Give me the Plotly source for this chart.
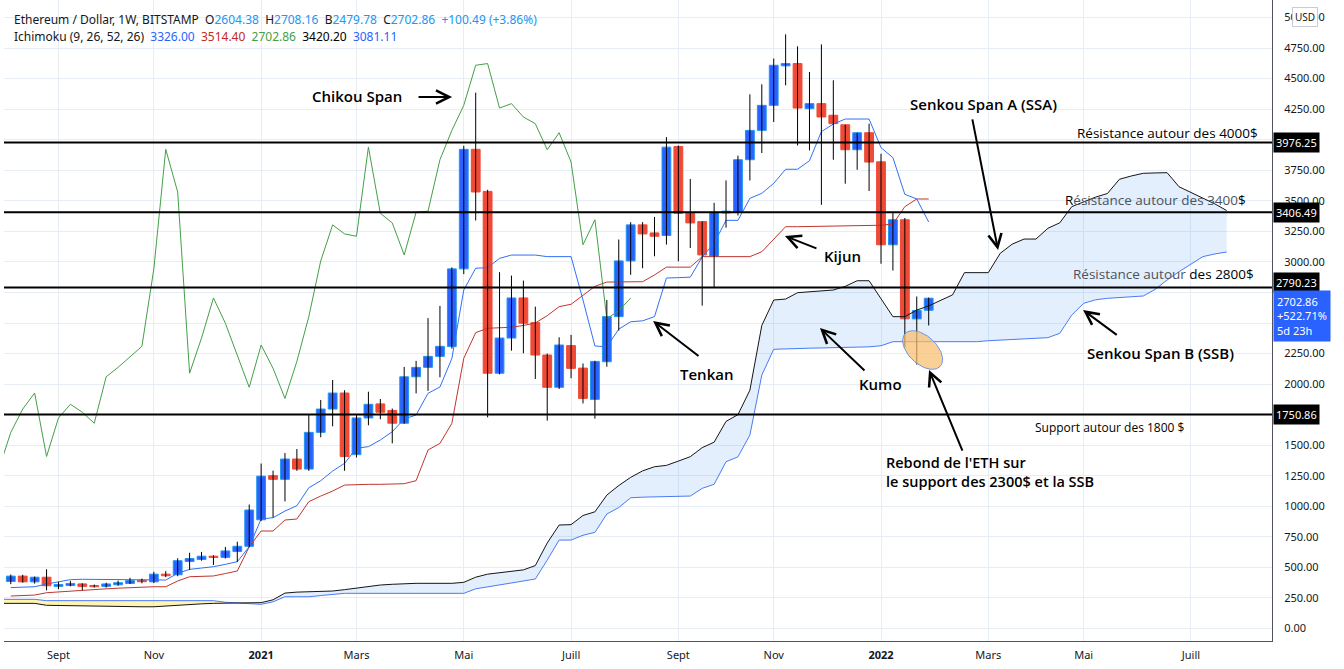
import math
import pandas as pd
import plotly.graph_objects as go

# ---------------- DATA ----------------
FIRST_WEEK = "2020-08-10"  # Monday of the first weekly candle

opens = [385, 429, 382, 420, 345, 352, 365, 350, 345, 358,
         369, 395, 382, 445, 440, 548, 565, 592, 582, 630,
         673, 890, 1251, 1221, 1387, 1305, 1605, 1796, 1927, 1423,
         1723, 1838, 1784, 1680, 2060, 2137, 2227, 2307, 2943, 3921,
         3577, 2089, 2377, 2705, 2503, 2238, 1974, 2315, 2131, 1875,
         2183, 2552, 3008, 3303, 3237, 3216, 3944, 3398, 3330, 3046,
         3400, 3410, 3836, 4076, 4281, 4604, 4623, 4254, 4295, 4200,
         4122, 3918, 4057, 3819, 3140, 3345, 2534, 2604.38]
highs = [442, 440, 425, 485, 382, 390, 370, 360, 375, 392,
         415, 408, 465, 470, 575, 620, 627, 600, 668, 710,
         1015, 1350, 1292, 1436, 1469, 1756, 1870, 2034, 1950, 1750,
         1938, 1878, 1800, 2140, 2190, 2540, 2640, 2955, 3950, 4385,
         3590, 2916, 2888, 2847, 2634, 2250, 2383, 2403, 2169, 2190,
         2688, 3183, 3325, 3325, 3368, 4021, 3953, 3679, 3330, 3483,
         3667, 3870, 4371, 4453, 4664, 4862, 4764, 4554, 4780, 4486,
         4122, 4057, 4131, 3885, 3407, 3359, 2717, 2708.16]
lows = [363, 375, 368, 312, 322, 345, 315, 335, 335, 350,
        365, 370, 372, 420, 428, 480, 555, 520, 573, 545,
        665, 880, 909, 1040, 1290, 1290, 1565, 1655, 1291, 1400,
        1663, 1712, 1515, 1675, 1924, 1945, 2056, 2290, 2900, 3339,
        1728, 2080, 2274, 2252, 2042, 1701, 1960, 2048, 1842, 1717,
        2142, 2438, 2894, 2948, 3046, 3142, 3005, 3114, 2642, 2787,
        3280, 3380, 3666, 3891, 4145, 4445, 3953, 3912, 3467, 3836,
        3640, 3754, 3580, 2985, 2929, 2301, 2160, 2479.78]
closes = [429, 382, 420, 350, 360, 369, 345, 342, 365, 375,
          392, 383, 445, 432, 555, 573, 592, 582, 635, 673,
          970, 1247, 1221, 1387, 1305, 1605, 1796, 1927, 1408, 1723,
          1835, 1770, 1680, 2060, 2137, 2227, 2309, 2943, 3921, 3572,
          2089, 2377, 2705, 2498, 2238, 1974, 2320, 2129, 1883, 2186,
          2552, 3008, 3303, 3229, 3210, 3939, 3398, 3319, 3057, 3406,
          3415, 3836, 4076, 4281, 4609, 4623, 4259, 4295, 4186, 4131,
          3918, 4057, 3817, 3140, 3345, 2534, 2602, 2702.86]

# Ichimoku lines (one value per weekly bar)
tenkan = [335, 337, 342, 364, 385, 400, 403, 403, 403, 403,
          403, 403, 397, 397, 452, 484, 495, 506, 525, 547,
          669, 896, 907, 961, 1005, 1152, 1209, 1289, 1352, 1475,
          1488, 1543, 1610, 1715, 1747, 1925, 1976, 2210, 2770, 2948,
          2953, 3029, 3056, 3056, 3056, 3043, 3043, 3043, 2688, 2312,
          2305, 2450, 2510, 2518, 2552, 2868, 2871, 2875, 3040, 3152,
          3340, 3340, 3520, 3561, 3643, 3758, 3758, 3828, 4066, 4128,
          4169, 4169, 4169, 3935, 3853, 3553, 3515, 3326.00]
kijun = [266, 270, 274, 293, 300, 310, 315, 320, 325, 330,
         336, 342, 342, 342, 389, 424, 427, 430, 450, 471,
         669, 798, 798, 888, 896, 1038, 1084, 1125, 1174, 1180,
         1180, 1180, 1180, 1185, 1210, 1461, 1515, 1679, 2211, 2421,
         2457, 2462, 2465, 2480, 2500, 2560, 2634, 2653, 2730, 2800,
         2835, 2838, 2838, 2838, 2893, 2957, 2957, 2957, 3043, 3043,
         3043, 3043, 3043, 3083, 3190, 3288, 3288, 3290, 3290, 3290,
         3295, 3295, 3296, 3300, 3310, 3452, 3515, 3514.40]
# Senkou spans (displaced 25 weeks ahead), starting one week before the first candle
ssa = [206, 206, 206, 206, 190, 188, 186, 184, 182, 180,
       178, 178, 178, 178, 185, 192, 198, 202, 206, 207,
       208, 208, 212, 235, 290, 298, 301, 305, 307, 318,
       330, 345, 356, 362, 368, 370, 370, 370, 370, 378,
       420, 445, 458, 465, 480, 515, 700, 847, 850, 925,
       955, 1092, 1170, 1237, 1290, 1324, 1335, 1370, 1406, 1480,
       1525, 1695, 1750, 1950, 2480, 2688, 2696, 2748, 2755, 2762,
       2770, 2800, 2846, 2846, 2700, 2552, 2552, 2606, 2640, 2688,
       2730, 2912, 2912, 2912, 3070, 3145, 3187, 3187, 3275, 3320,
       3452, 3490, 3530, 3560, 3676, 3703, 3725, 3728, 3730, 3615,
       3570, 3520, 3475, 3420.20]
ssb = [239, 239, 239, 239, 228, 228, 228, 228, 228, 228,
       228, 228, 228, 228, 228, 228, 228, 228, 228, 215,
       208, 200, 198, 219, 260, 260, 260, 270, 280, 288,
       288, 288, 288, 288, 288, 288, 288, 288, 288, 288,
       325, 340, 355, 370, 388, 405, 560, 724, 724, 763,
       787, 937, 990, 1070, 1075, 1078, 1080, 1082, 1084, 1147,
       1180, 1365, 1405, 1583, 2074, 2285, 2290, 2292, 2294, 2296,
       2298, 2300, 2302, 2305, 2314, 2347, 2347, 2347, 2347, 2347,
       2347, 2347, 2347, 2355, 2360, 2367, 2370, 2375, 2380, 2416,
       2565, 2661, 2690, 2702, 2707, 2712, 2721, 2775, 2852, 2920,
       2980, 3043, 3065, 3081.11]
chikou = closes[24:]  # closes drawn 25 bars back (lagging span)

levels = [3976.25, 3406.49, 2790.23, 1750.86]
level_label_shift = [0, 0, 5, 0]

# price-axis labels visible in the picture (others are hidden behind the price boxes)
y_tick_vals = [0, 250, 500, 750, 1000, 1250, 1500, 2000, 2250,
               3000, 3250, 3500, 3750, 4250, 4500, 4750, 5000]

tick_dates = ["2020-09-07", "2020-11-02", "2021-01-04", "2021-03-01", "2021-05-03",
              "2021-07-05", "2021-09-06", "2021-11-01", "2022-01-03", "2022-03-07",
              "2022-05-02", "2022-07-04"]
tick_labels = ["Sept", "Nov", "<b>2021</b>", "Mars", "Mai", "Juill", "Sept", "Nov",
               "<b>2022</b>", "Mars", "Mai", "Juill"]

# ---------------- BUILD ----------------
weeks = pd.date_range(FIRST_WEEK, periods=len(closes), freq="7D")
span_weeks = pd.date_range(pd.Timestamp(FIRST_WEEK) - pd.Timedelta(weeks=1), periods=len(ssa), freq="7D")
chikou_weeks = span_weeks[:len(chikou)]
LAST = weeks[-1]


def wk(k):
    return str(LAST + pd.Timedelta(days=7 * k))


UP_FILL, UP_LINE = "#2962ff", "#2196f3"
DN_FILL, DN_LINE = "#ef4a36", "#ef4a36"

fig = go.Figure()

# cloud
hi = [max(a, b) for a, b in zip(ssa, ssb)]
fig.add_trace(go.Scatter(x=span_weeks, y=ssa, mode="lines", line=dict(width=0), hoverinfo="skip"))
fig.add_trace(go.Scatter(x=span_weeks, y=hi, mode="lines", line=dict(width=0), fill="tonexty",
                         fillcolor="rgba(255,232,80,0.45)", hoverinfo="skip"))
fig.add_trace(go.Scatter(x=span_weeks, y=ssb, mode="lines", line=dict(width=0), hoverinfo="skip"))
fig.add_trace(go.Scatter(x=span_weeks, y=hi, mode="lines", line=dict(width=0), fill="tonexty",
                         fillcolor="rgba(40,130,235,0.13)", hoverinfo="skip"))
fig.add_trace(go.Scatter(x=span_weeks, y=ssb, mode="lines", line=dict(color="#4a7bf7", width=1)))
fig.add_trace(go.Scatter(x=span_weeks, y=ssa, mode="lines", line=dict(color="#151515", width=1)))

# chikou, kijun, tenkan
fig.add_trace(go.Scatter(x=chikou_weeks, y=chikou, mode="lines", line=dict(color="#43a047", width=1)))
fig.add_trace(go.Scatter(x=weeks, y=kijun, mode="lines", line=dict(color="#c0352d", width=1)))
fig.add_trace(go.Scatter(x=weeks, y=tenkan, mode="lines", line=dict(color="#3170f5", width=1)))

# wicks
wx, wy = [], []
for d, h, l in zip(weeks, highs, lows):
    wx += [d, d, None]
    wy += [l, h, None]
fig.add_trace(go.Scatter(x=wx, y=wy, mode="lines", line=dict(color="#000000", width=1)))

# bodies
bar_w = 7 * 24 * 3600 * 1000 * 0.74
for up in (True, False):
    xs, bases, hs = [], [], []
    for d, o, c in zip(weeks, opens, closes):
        if (c >= o) == up:
            xs.append(d)
            bases.append(min(o, c))
            hs.append(max(abs(c - o), 10))
    fig.add_trace(go.Bar(x=xs, y=hs, base=bases, width=bar_w,
                         marker=dict(color=UP_FILL if up else DN_FILL,
                                     line=dict(color=UP_LINE if up else DN_LINE, width=1))))

# ellipse (highlight of the rebound)
kc, pc = -0.51, 2279
a_px, b_px, th = 24, 14, math.radians(43)
ex, ey = [], []
for i in range(73):
    t = 2 * math.pi * i / 72
    dx = a_px * math.cos(t) * math.cos(th) - b_px * math.sin(t) * math.sin(th)
    dy = a_px * math.cos(t) * math.sin(th) + b_px * math.sin(t) * math.cos(th)
    ex.append(wk(kc + dx / 11.92))
    ey.append(pc - dy / 0.1222)
fig.add_trace(go.Scatter(x=ex, y=ey, mode="lines", fill="toself", fillcolor="rgba(250,190,110,0.72)",
                         line=dict(color="#6a95f0", width=1)))

# horizontal levels
for lv in levels:
    fig.add_shape(type="line", xref="paper", x0=0, x1=1, yref="y", y0=lv, y1=lv,
                  line=dict(color="#000000", width=2), layer="above")

ann = []
TXT = "#131722"
FONT = "Open Sans"


def label(text, k, p, size=15, weight=600, **kw):
    d = dict(x=wk(k), y=p, xref="x", yref="y", text=text, showarrow=False,
             font=dict(family=FONT, size=size, color="#000000", weight=weight))
    d.update(kw)
    ann.append(d)


def arrow(k0, p0, k1, p1):
    ann.append(dict(x=wk(k1), y=p1, ax=wk(k0), ay=p0, xref="x", yref="y", axref="x", ayref="y",
                    text="", showarrow=True, arrowhead=5, arrowsize=1.3, arrowwidth=2,
                    arrowcolor="#000000", standoff=0, startstandoff=0))


label("Chikou Span", -47.95, 4358)
arrow(-42.92, 4349, -39.98, 4349)
label("Senkou Span A (SSA)", 4.56, 4292)
arrow(3.64, 4178, 5.82, 3097)
label("Résistance autour des 4000$", 20.0, 4055, size=13.5, weight=500)
label("R<span style='color:#4d525c'>ésistance autour des 3400</span>$", 19.0, 3507, size=13.5, weight=500)
label("<span style='color:#4d525c'>Résistance autour </span>des 2800$", 19.7, 2900, size=13.5, weight=500)
label("Kijun", -7.2, 3048)
arrow(-9.29, 3106, -12.06, 3212)
label("Tenkan", -18.67, 2083)
arrow(-19.18, 2221, -23.12, 2516)
label("Kumo", -4.08, 2002)
arrow(-5.26, 2099, -9.12, 2459)
label("Senkou Span B (SSB)", 19.42, 2254)
arrow(15.9, 2394, 12.95, 2606)
label("Support autour des 1800 $", 15.2, 1641, size=12, weight=500)
label("Rebond de l'ETH sur<br>le support des 2300$ et la SSB", -3.74, 1277, size=14.5,
      xanchor="left", align="left")
arrow(2.88, 1444, 0.03, 2115)

# axis price labels
for lv, sh in zip(levels, level_label_shift):
    ann.append(dict(xref="paper", x=1, xanchor="left", xshift=1, yref="y", y=lv, yshift=sh,
                    text=f"{lv:.2f}", showarrow=False, bgcolor="#000000", borderpad=2,
                    font=dict(family="Noto Sans", size=11, color="#ffffff")))
ann.append(dict(xref="paper", x=1, xanchor="left", xshift=1, yref="y", y=closes[-1], yanchor="top",
                yshift=8, text=f"{closes[-1]:.2f}<br>+522.71%<br>5d 23h", align="left",
                showarrow=False, bgcolor="#2962ff", borderpad=3,
                font=dict(family="Noto Sans", size=11, color="#ffffff")))
ann.append(dict(xref="paper", x=1, xanchor="center", xshift=33, yref="paper", y=1, yanchor="top",
                yshift=-7, text="USD", showarrow=False, bgcolor="#ffffff", bordercolor="#c9ccd4",
                borderwidth=1, borderpad=2, font=dict(family="Noto Sans", size=10, color=TXT)))

# header
BL = "#2196f3"
h1 = ("Ethereum / Dollar, 1W, BITSTAMP&nbsp;&nbsp;"
      f"O<span style='color:{BL}'>{opens[-1]:.2f}</span>&nbsp;&nbsp;"
      f"H<span style='color:{BL}'>{highs[-1]:.2f}</span>&nbsp;&nbsp;"
      f"B<span style='color:{BL}'>{lows[-1]:.2f}</span>&nbsp;&nbsp;"
      f"C<span style='color:{BL}'>{closes[-1]:.2f}</span>&nbsp;&nbsp;"
      f"<span style='color:{BL}'>+100.49 (+3.86%)</span>")
h2 = ("Ichimoku (9, 26, 52, 26)&nbsp;&nbsp;"
      f"<span style='color:#2962ff'>{tenkan[-1]:.2f}</span>&nbsp;&nbsp;"
      f"<span style='color:#c62828'>{kijun[-1]:.2f}</span>&nbsp;&nbsp;"
      f"<span style='color:#43a047'>{chikou[-1]:.2f}</span>&nbsp;&nbsp;"
      f"<span style='color:#000000'>{ssa[-1]:.2f}</span>&nbsp;&nbsp;"
      f"<span style='color:#2962ff'>{ssb[-1]:.2f}</span>")
for i, h in enumerate([h1, h2]):
    ann.append(dict(xref="paper", x=0, xanchor="left", xshift=8, yref="paper", y=1, yanchor="top",
                    yshift=-9 - 17 * i, text=h, showarrow=False, align="left",
                    font=dict(family="Noto Sans", size=12, color=TXT)))

GRID = "#e6edf4"
fig.update_layout(
    width=1344, height=669,
    margin=dict(l=4, r=72, t=0, b=28),
    paper_bgcolor="#ffffff", plot_bgcolor="#ffffff",
    showlegend=False, barmode="overlay", hovermode=False,
    annotations=ann,
    xaxis=dict(type="date", range=[wk(-77.57), wk(28.8)], tickvals=tick_dates, ticktext=tick_labels,
               showgrid=True, gridcolor=GRID, gridwidth=1, zeroline=False,
               showline=True, linecolor="#50535e", linewidth=1, ticks="",
               ticklabelstandoff=4, tickfont=dict(family="Noto Sans", size=11, color=TXT)),
    yaxis=dict(side="right", range=[-102, 5143], tickvals=y_tick_vals, tickformat=".2f",
               showgrid=True, gridcolor=GRID, gridwidth=1, zeroline=False,
               minor=dict(tick0=0, dtick=250, showgrid=True, gridcolor=GRID, gridwidth=1, ticks=""),
               showline=True, linecolor="#50535e", linewidth=1, ticks="",
               ticklabelstandoff=9, tickfont=dict(family="Noto Sans", size=11, color=TXT)),
)

fig.write_html("out.html",
               config={"displayModeBar": False, "staticPlot": True},
               post_script="document.body.style.margin='0';document.body.style.padding='0';"
                           "document.body.style.overflow='hidden';")
